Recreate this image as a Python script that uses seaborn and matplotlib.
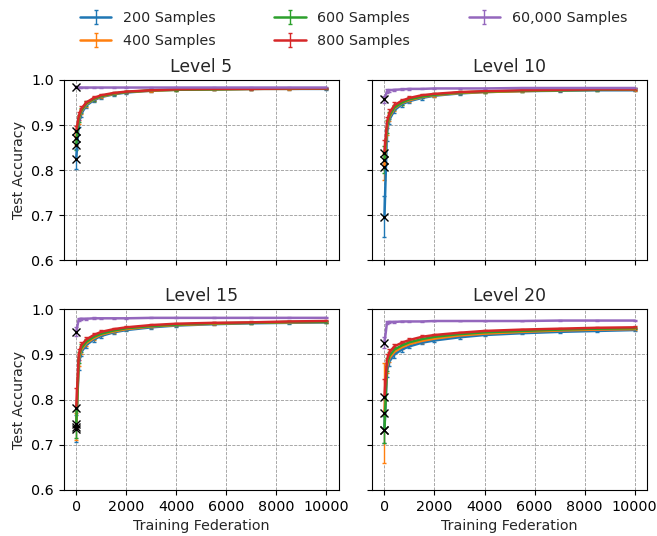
import numpy as np
import pandas as pd
import seaborn as sns
import matplotlib
matplotlib.use('Agg')
import matplotlib.pyplot as plt

# training federation at which accuracy was logged
STEPS = [0, 100, 200, 400, 700, 1000, 1500, 2000, 3000, 4000, 5500, 7000, 8500, 10000]
LABELS = ['200 Samples', '400 Samples', '600 Samples', '800 Samples', '60,000 Samples']
LEVELS = ['Level 5', 'Level 10', 'Level 15', 'Level 20']

# Level 5
L5_200 = [0.825, 0.905, 0.925, 0.943, 0.955, 0.962, 0.968, 0.972, 0.976, 0.978, 0.979, 0.980, 0.980, 0.980]
L5_400 = [0.871, 0.912, 0.930, 0.946, 0.957, 0.963, 0.969, 0.973, 0.976, 0.978, 0.979, 0.980, 0.980, 0.981]
L5_600 = [0.856, 0.915, 0.932, 0.948, 0.958, 0.964, 0.970, 0.973, 0.977, 0.978, 0.979, 0.980, 0.981, 0.981]
L5_800 = [0.886, 0.920, 0.936, 0.950, 0.960, 0.966, 0.971, 0.974, 0.977, 0.979, 0.980, 0.980, 0.981, 0.981]
L5_60K = [0.984, 0.983, 0.983, 0.983, 0.983, 0.983, 0.983, 0.983, 0.983, 0.983, 0.983, 0.983, 0.983, 0.983]
L5_200_ERR = [0.022, 0.010, 0.007, 0.005, 0.004, 0.004, 0.003, 0.003, 0.003, 0.002, 0.002, 0.002, 0.002, 0.002]
L5_400_ERR = [0.015, 0.009, 0.006, 0.005, 0.004, 0.003, 0.003, 0.003, 0.002, 0.002, 0.002, 0.002, 0.002, 0.002]
L5_600_ERR = [0.012, 0.008, 0.006, 0.005, 0.004, 0.003, 0.003, 0.003, 0.002, 0.002, 0.002, 0.002, 0.002, 0.002]
L5_800_ERR = [0.012, 0.008, 0.006, 0.004, 0.004, 0.003, 0.003, 0.002, 0.002, 0.002, 0.002, 0.002, 0.002, 0.002]
L5_60K_ERR = [0.002, 0.001, 0.001, 0.001, 0.001, 0.001, 0.001, 0.001, 0.001, 0.001, 0.001, 0.001, 0.001, 0.001]

# Level 10
L10_200 = [0.697, 0.885, 0.912, 0.933, 0.946, 0.953, 0.960, 0.965, 0.970, 0.973, 0.975, 0.976, 0.977, 0.977]
L10_400 = [0.808, 0.893, 0.918, 0.937, 0.949, 0.955, 0.962, 0.966, 0.971, 0.973, 0.975, 0.977, 0.978, 0.978]
L10_600 = [0.823, 0.897, 0.921, 0.939, 0.950, 0.957, 0.963, 0.967, 0.972, 0.974, 0.976, 0.977, 0.978, 0.979]
L10_800 = [0.839, 0.905, 0.927, 0.944, 0.954, 0.960, 0.966, 0.969, 0.973, 0.975, 0.977, 0.978, 0.979, 0.979]
L10_60K = [0.957, 0.975, 0.977, 0.978, 0.979, 0.980, 0.980, 0.981, 0.981, 0.981, 0.982, 0.982, 0.982, 0.982]
L10_200_ERR = [0.045, 0.020, 0.010, 0.007, 0.005, 0.004, 0.004, 0.003, 0.003, 0.003, 0.002, 0.002, 0.002, 0.002]
L10_400_ERR = [0.030, 0.015, 0.009, 0.006, 0.005, 0.004, 0.003, 0.003, 0.003, 0.002, 0.002, 0.002, 0.002, 0.002]
L10_600_ERR = [0.030, 0.014, 0.008, 0.006, 0.005, 0.004, 0.003, 0.003, 0.003, 0.002, 0.002, 0.002, 0.002, 0.002]
L10_800_ERR = [0.028, 0.012, 0.008, 0.006, 0.004, 0.004, 0.003, 0.003, 0.002, 0.002, 0.002, 0.002, 0.002, 0.002]
L10_60K_ERR = [0.008, 0.004, 0.003, 0.002, 0.002, 0.002, 0.001, 0.001, 0.001, 0.001, 0.001, 0.001, 0.001, 0.001]

# Level 15
L15_200 = [0.735, 0.880, 0.905, 0.921, 0.933, 0.941, 0.949, 0.954, 0.960, 0.964, 0.967, 0.969, 0.970, 0.971]
L15_400 = [0.740, 0.888, 0.910, 0.925, 0.936, 0.944, 0.951, 0.956, 0.962, 0.965, 0.968, 0.970, 0.971, 0.972]
L15_600 = [0.745, 0.893, 0.914, 0.928, 0.939, 0.946, 0.953, 0.958, 0.963, 0.966, 0.969, 0.970, 0.972, 0.972]
L15_800 = [0.781, 0.900, 0.920, 0.933, 0.943, 0.950, 0.956, 0.960, 0.965, 0.968, 0.970, 0.971, 0.973, 0.974]
L15_60K = [0.950, 0.978, 0.979, 0.979, 0.980, 0.980, 0.980, 0.980, 0.981, 0.981, 0.981, 0.981, 0.981, 0.981]
L15_200_ERR = [0.030, 0.015, 0.009, 0.006, 0.005, 0.004, 0.004, 0.003, 0.003, 0.003, 0.002, 0.002, 0.002, 0.002]
L15_400_ERR = [0.030, 0.014, 0.009, 0.006, 0.005, 0.004, 0.003, 0.003, 0.003, 0.002, 0.002, 0.002, 0.002, 0.002]
L15_600_ERR = [0.030, 0.013, 0.008, 0.006, 0.005, 0.004, 0.003, 0.003, 0.003, 0.002, 0.002, 0.002, 0.002, 0.002]
L15_800_ERR = [0.045, 0.012, 0.008, 0.006, 0.004, 0.004, 0.003, 0.003, 0.002, 0.002, 0.002, 0.002, 0.002, 0.002]
L15_60K_ERR = [0.010, 0.003, 0.002, 0.002, 0.002, 0.001, 0.001, 0.001, 0.001, 0.001, 0.001, 0.001, 0.001, 0.001]

# Level 20
L20_200 = [0.733, 0.865, 0.885, 0.900, 0.911, 0.918, 0.926, 0.931, 0.938, 0.943, 0.947, 0.950, 0.952, 0.954]
L20_400 = [0.770, 0.873, 0.892, 0.906, 0.916, 0.923, 0.930, 0.935, 0.942, 0.946, 0.950, 0.953, 0.955, 0.956]
L20_600 = [0.733, 0.878, 0.897, 0.911, 0.920, 0.927, 0.934, 0.939, 0.945, 0.949, 0.952, 0.955, 0.957, 0.958]
L20_800 = [0.805, 0.888, 0.905, 0.918, 0.926, 0.932, 0.939, 0.943, 0.948, 0.952, 0.955, 0.957, 0.959, 0.960]
L20_60K = [0.926, 0.970, 0.972, 0.972, 0.973, 0.973, 0.973, 0.974, 0.974, 0.974, 0.974, 0.975, 0.975, 0.975]
L20_200_ERR = [0.030, 0.016, 0.010, 0.007, 0.005, 0.004, 0.004, 0.003, 0.003, 0.003, 0.002, 0.002, 0.002, 0.002]
L20_400_ERR = [0.110, 0.015, 0.009, 0.006, 0.005, 0.004, 0.004, 0.003, 0.003, 0.003, 0.002, 0.002, 0.002, 0.002]
L20_600_ERR = [0.030, 0.014, 0.008, 0.006, 0.005, 0.004, 0.003, 0.003, 0.003, 0.002, 0.002, 0.002, 0.002, 0.002]
L20_800_ERR = [0.040, 0.013, 0.008, 0.006, 0.004, 0.004, 0.003, 0.003, 0.002, 0.002, 0.002, 0.002, 0.002, 0.002]
L20_60K_ERR = [0.012, 0.003, 0.002, 0.002, 0.002, 0.001, 0.001, 0.001, 0.001, 0.001, 0.001, 0.001, 0.001, 0.001]

panels = [
    ([L5_200, L5_400, L5_600, L5_800, L5_60K],
     [L5_200_ERR, L5_400_ERR, L5_600_ERR, L5_800_ERR, L5_60K_ERR]),
    ([L10_200, L10_400, L10_600, L10_800, L10_60K],
     [L10_200_ERR, L10_400_ERR, L10_600_ERR, L10_800_ERR, L10_60K_ERR]),
    ([L15_200, L15_400, L15_600, L15_800, L15_60K],
     [L15_200_ERR, L15_400_ERR, L15_600_ERR, L15_800_ERR, L15_60K_ERR]),
    ([L20_200, L20_400, L20_600, L20_800, L20_60K],
     [L20_200_ERR, L20_400_ERR, L20_600_ERR, L20_800_ERR, L20_60K_ERR]),
]

sns.set_style('ticks')
plt.rcParams['font.family'] = ['DejaVu Sans']
colors = sns.color_palette('tab10', 5)

fig, axes = plt.subplots(2, 2, figsize=(6.57, 5.36), dpi=100, sharex=True, sharey=True)
fig.subplots_adjust(left=0.097, right=0.985, top=0.851, bottom=0.086, wspace=0.12, hspace=0.27)

for ax, title, (series, errs) in zip(axes.flat, LEVELS, panels):
    for ys, es, c, lab in zip(series, errs, colors, LABELS):
        ax.errorbar(STEPS, ys, yerr=es, color=c, label=lab, linewidth=1.8,
                    elinewidth=1.0, capsize=1.5)
    for ys in series:
        ax.plot(STEPS[0], ys[0], 'x', color='black', markersize=6, zorder=5)
    ax.set_title(title, fontsize=12.4)
    ax.grid(True, linestyle='--', color='gray', linewidth=0.6, alpha=0.8)
    for s in ax.spines.values():
        s.set_color('black')
    ax.tick_params(colors='black', labelsize=10.3)

axes[0, 0].set_ylim(0.6, 1.0)
axes[0, 0].set_yticks([0.6, 0.7, 0.8, 0.9, 1.0])
axes[0, 0].set_xticks([0, 2000, 4000, 6000, 8000, 10000])
for ax in axes[:, 0]:
    ax.set_ylabel('Test Accuracy', fontsize=10.3)
for ax in axes[1, :]:
    ax.set_xlabel('Training Federation', fontsize=10.3)

handles, labels = axes[0, 0].get_legend_handles_labels()
fig.legend(handles, labels, loc='upper left', ncol=3, frameon=False, fontsize=10.3,
           columnspacing=4.1, labelspacing=0.6, handlelength=2.2,
           bbox_to_anchor=(0.113, 0.990), borderaxespad=0.)

fig.savefig('out.png', dpi=100)
